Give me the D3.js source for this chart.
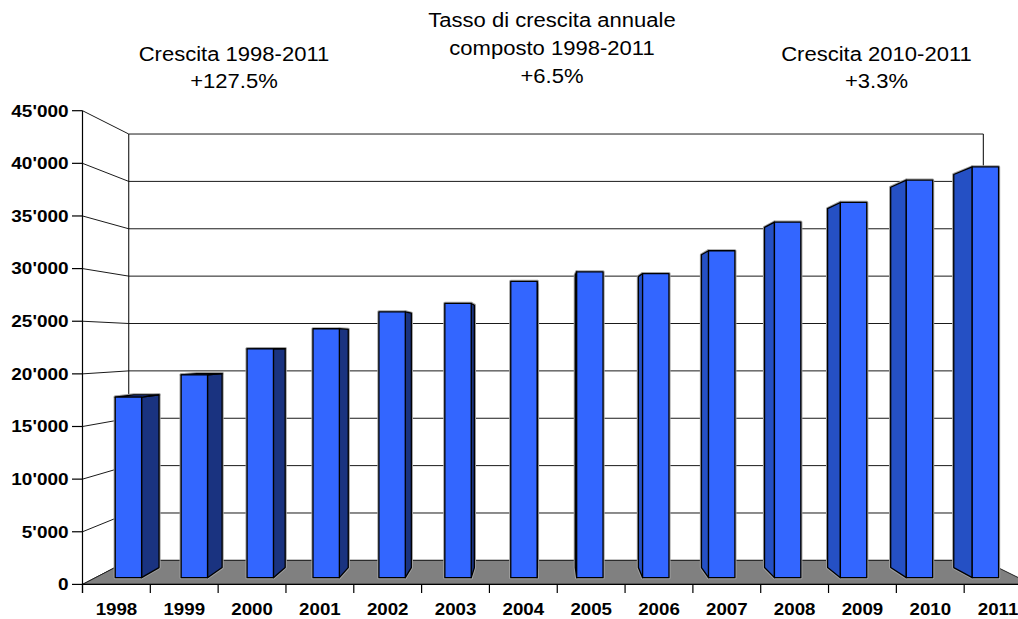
<!DOCTYPE html>
<html>
<head>
<meta charset="utf-8">
<script src="https://cdn.jsdelivr.net/npm/d3@7"></script>
<style>
  html, body { margin: 0; padding: 0; background: #fff; }
  svg { display: block; font-family: "Liberation Sans", Arial, sans-serif; }
</style>
</head>
<body>
<svg id="chart" width="1018" height="619"></svg>
<script>
// ---- data ----
const years = ["1998","1999","2000","2001","2002","2003","2004","2005","2006","2007","2008","2009","2010","2011"];
const values = [17650, 19820, 22370, 24330, 25980, 26800, 28950, 29890, 29720, 31950, 34750, 36670, 38850, 40150];
const yTicks = [0, 5000, 10000, 15000, 20000, 25000, 30000, 35000, 40000, 45000];
const yTickLabels = ["0", "5'000", "10'000", "15'000", "20'000", "25'000", "30'000", "35'000", "40'000", "45'000"];
const titleLeft = ["Crescita 1998-2011", "+127.5%"];
const titleMid = ["Tasso di crescita annuale", "composto 1998-2011", "+6.5%"];
const titleRight = ["Crescita 2010-2011", "+3.3%"];

// ---- layout / projection ----
const svg = d3.select("#chart");
const V = { x: 545, y: 344 };           // vanishing point
const S_FRONT = 1, S_BAR_F = 0.972, S_BAR_B = 0.930, S_WALL = 0.9;

const x = d3.scaleBand().domain(years).range([82.5, 1032]).paddingInner(0.6).paddingOuter(0.3);
const y = d3.scaleLinear().domain([0, 45000]).range([584.4, 110.7]);
const step = x.step();
const X0 = x.range()[0], X1 = x.range()[1];

function proj(X, Y, s) { return [V.x + s * (X - V.x), V.y + s * (Y - V.y)]; }
const line = d3.line();
function poly(pts) { return line(pts) + "Z"; }

const gWalls = svg.append("g");
// grid lines: side wall segment + back wall segment
yTicks.forEach(t => {
  const a = proj(X0, y(t), S_FRONT), b = proj(X0, y(t), S_WALL), c = proj(X1, y(t), S_WALL);
  gWalls.append("path").attr("d", line([a, b, c])).attr("fill", "none")
    .attr("stroke", "#1a1a1a").attr("stroke-width", 1);
});
// back wall verticals
[X0, X1].forEach(X => {
  gWalls.append("path").attr("d", line([proj(X, y(45000), S_WALL), proj(X, y(0), S_WALL)]))
    .attr("stroke", "#000").attr("stroke-width", 1);
});

// floor
svg.append("path")
  .attr("d", poly([proj(X0, y(0), S_FRONT), proj(X1, y(0), S_FRONT), proj(X1, y(0), S_WALL), proj(X0, y(0), S_WALL)]))
  .attr("fill", "#808080").attr("stroke", "#222").attr("stroke-width", 1);

// bars
const bw = x.bandwidth();
const gBars = svg.append("g");
years.forEach((yr, i) => {
  const xa = x(yr), xb = xa + bw, yt = y(values[i]), yb = y(0);
  const faces = [];
  if (xb < V.x) {
    faces.push({ pts: [proj(xb, yt, S_BAR_F), proj(xb, yt, S_BAR_B), proj(xb, yb, S_BAR_B), proj(xb, yb, S_BAR_F)], fill: "#1A3380" });
  }
  if (xa > V.x) {
    faces.push({ pts: [proj(xa, yt, S_BAR_F), proj(xa, yt, S_BAR_B), proj(xa, yb, S_BAR_B), proj(xa, yb, S_BAR_F)], fill: "#2550C4" });
  }
  if (yt > V.y) {
    faces.push({ pts: [proj(xa, yt, S_BAR_F), proj(xb, yt, S_BAR_F), proj(xb, yt, S_BAR_B), proj(xa, yt, S_BAR_B)], fill: "#2447B8" });
  }
  faces.push({ pts: [proj(xa, yt, S_BAR_F), proj(xb, yt, S_BAR_F), proj(xb, yb, S_BAR_F), proj(xa, yb, S_BAR_F)], fill: "#3366FF" });
  const g = gBars.append("g");
  faces.forEach(f => g.append("path").attr("d", poly(f.pts)).attr("fill", "none")
    .attr("stroke", "#a0a0a0").attr("stroke-width", 3.2).attr("stroke-linejoin", "round"));
  faces.forEach(f => g.append("path").attr("d", poly(f.pts)).attr("fill", f.fill)
    .attr("stroke", "#000").attr("stroke-width", 1.3).attr("stroke-linejoin", "round"));
});

// axes
const yAxisX = X0;
svg.append("line").attr("x1", yAxisX).attr("x2", yAxisX).attr("y1", y(45000)).attr("y2", 593)
  .attr("stroke", "#000").attr("stroke-width", 1.2);
svg.append("line").attr("x1", X0).attr("x2", 1018).attr("y1", y(0)).attr("y2", y(0))
  .attr("stroke", "#000").attr("stroke-width", 1.2);
yTicks.forEach((t, i) => {
  svg.append("line").attr("x1", 72).attr("x2", yAxisX).attr("y1", y(t)).attr("y2", y(t))
    .attr("stroke", "#000").attr("stroke-width", 1.2);
  svg.append("text").attr("transform", `translate(68.5,${y(t) + 5.8}) scale(1.17,1)`)
    .attr("text-anchor", "end").attr("font-weight", "bold").attr("font-size", "16.2px")
    .attr("fill", "#000").text(yTickLabels[i]);
});
d3.range(years.length + 1).forEach(i => {
  const xt = X0 + i * step;
  svg.append("line").attr("x1", xt).attr("x2", xt).attr("y1", y(0)).attr("y2", 593)
    .attr("stroke", "#000").attr("stroke-width", 1.2);
});
years.forEach(yr => {
  const cx = x(yr) + bw / 2;
  svg.append("text").attr("transform", `translate(${cx},614.8) scale(1.1,1)`)
    .attr("text-anchor", "middle").attr("font-weight", "bold").attr("font-size", "17px")
    .attr("fill", "#000").text(yr);
});

// annotations
function block(lines, cx, y0, dy) {
  lines.forEach((t, i) => {
    svg.append("text").attr("transform", `translate(${cx},${y0 + i * dy}) scale(1.13,1)`)
      .attr("text-anchor", "middle").attr("font-size", "19.5px").attr("fill", "#000").text(t);
  });
}
block(titleLeft, 234, 60.7, 27.2);
block(titleMid, 552, 27.3, 27.6);
block(titleRight, 876.5, 60.7, 27.2);
</script>
</body>
</html>
